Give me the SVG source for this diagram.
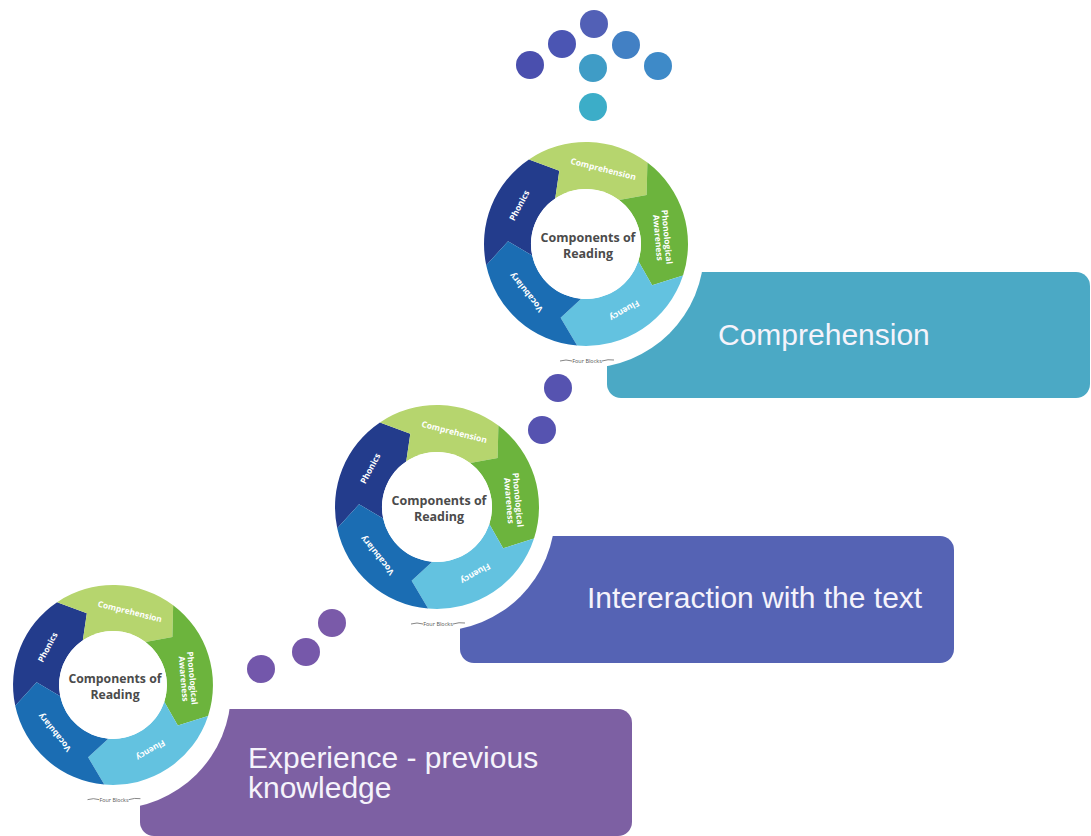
<svg xmlns="http://www.w3.org/2000/svg" xmlns:xlink="http://www.w3.org/1999/xlink" width="1091" height="836" viewBox="0 0 1091 836">
  <style>
    .seg-phonics { fill: #233c8c; }
    .seg-comp { fill: #b6d56e; }
    .seg-phon { fill: #6cb43d; }
    .seg-flu { fill: #63c2e0; }
    .seg-voc { fill: #1b6db3; }
    .seg-label { font-family: "Open Sans", "DejaVu Sans", sans-serif; font-weight: bold; font-size: 8.5px; fill: #ffffff; text-anchor: middle; }
    .hub { fill: #ffffff; }
    .hub-label { font-family: "Open Sans", "DejaVu Sans", sans-serif; font-weight: bold; font-size: 12.5px; fill: #4b4b4b; text-anchor: middle; }
    .caption { font-family: "Open Sans", "DejaVu Sans", sans-serif; font-size: 5.5px; fill: #555555; text-anchor: middle; }
    .caption-line { stroke: #666666; stroke-width: 0.8; fill: none; }
    .cutout { fill: #ffffff; }
    .panel-text { font-family: "Liberation Sans", Arial, sans-serif; font-size: 30px; fill: #f5f3fb; }
    .p1 { fill: #7d60a3; }
    .p2 { fill: #5563b4; }
    .p3 { fill: #4ba9c5; }
  </style>
  <defs>
    <!-- reading wheel: five chevron segments around a white hub, centred on 0,0 -->
    <g id="wheel">
      <path class="seg-phonics" d="M -99.77 21.21 A 102 102 0 0 1 -57.04 -84.56 L -26.68 -73.30 L -30.76 -45.60 A 55 55 0 0 0 -53.80 11.44 L -77.95 -2.72 Z"/>
      <path class="seg-comp" d="M -57.04 -84.56 A 102 102 0 0 1 61.39 -81.46 L 60.62 -49.09 L 33.10 -43.93 A 55 55 0 0 0 -30.76 -45.60 L -26.68 -73.30 Z"/>
      <path class="seg-phon" d="M 61.39 -81.46 A 102 102 0 0 1 97.01 31.52 L 66.15 41.33 L 52.31 17.00 A 55 55 0 0 0 33.10 -43.93 L 60.62 -49.09 Z"/>
      <path class="seg-flu" d="M 97.01 31.52 A 102 102 0 0 1 -8.89 101.61 L -25.39 73.75 L -4.79 54.79 A 55 55 0 0 0 52.31 17.00 L 66.15 41.33 Z"/>
      <path class="seg-voc" d="M -8.89 101.61 A 102 102 0 0 1 -99.77 21.21 L -77.95 -2.72 L -53.80 11.44 A 55 55 0 0 0 -4.79 54.79 L -25.39 73.75 Z"/>
      <circle class="hub" cx="0" cy="0" r="55"/>
      <text class="seg-label" transform="translate(17.3 -75) rotate(14)" dy="3">Comprehension</text>
      <text class="seg-label" transform="translate(76.5 -6.7) rotate(85)"><tspan x="0" y="-1.5">Phonological</tspan><tspan x="0" y="7.5">Awareness</tspan></text>
      <text class="seg-label" transform="translate(38.5 66.7) rotate(150)" dy="3">Fluency</text>
      <text class="seg-label" transform="translate(-59.8 48.5) rotate(231)" dy="3">Vocabulary</text>
      <text class="seg-label" transform="translate(-66.7 -38.5) rotate(298)" dy="3">Phonics</text>
      <text class="hub-label" x="2" y="-2">Components of</text>
      <text class="hub-label" x="2" y="14">Reading</text>
      <path class="caption-line" d="M -26 117 Q -20 115 -14 117"/>
      <text class="caption" x="1" y="119">Four Blocks</text>
      <path class="caption-line" d="M 16 117 Q 22 115 28 116"/>
    </g>
  </defs>

  <!-- upward arrow made of dots -->
  <g id="arrow-up">
    <circle cx="594" cy="24" r="14" fill="#5260b6"/>
    <circle cx="562" cy="44" r="14" fill="#4b55b3"/>
    <circle cx="626" cy="45" r="14" fill="#4280c4"/>
    <circle cx="530" cy="65" r="14" fill="#4a4fae"/>
    <circle cx="593" cy="68" r="14" fill="#3f9cc6"/>
    <circle cx="658" cy="66" r="14" fill="#3e8ac8"/>
    <circle cx="593" cy="107" r="14" fill="#3cadc8"/>
  </g>

  <!-- dotted links between the steps -->
  <g id="connectors">
    <circle cx="261" cy="669" r="14" fill="#7357ab"/>
    <circle cx="306" cy="652" r="14" fill="#7658aa"/>
    <circle cx="332" cy="623" r="14" fill="#7a5aa9"/>
    <circle cx="542" cy="430" r="14" fill="#5653b0"/>
    <circle cx="558" cy="388" r="14" fill="#5653b0"/>
  </g>

  <!-- step 1 -->
  <g id="step-experience">
    <rect class="p1" x="140" y="709" width="492" height="127" rx="14"/>
    <circle class="cutout" cx="113" cy="691" r="118"/>
    <use xlink:href="#wheel" transform="translate(113 685) scale(0.98)"/>
    <text class="panel-text" x="248" y="768">Experience - previous</text>
    <text class="panel-text" x="248" y="798">knowledge</text>
  </g>

  <!-- step 2 -->
  <g id="step-interaction">
    <rect class="p2" x="460" y="536" width="494" height="127" rx="14"/>
    <circle class="cutout" cx="437" cy="513" r="118"/>
    <use xlink:href="#wheel" transform="translate(437 507)"/>
    <text class="panel-text" x="587" y="608">Intereraction with the text</text>
  </g>

  <!-- step 3 -->
  <g id="step-comprehension">
    <rect class="p3" x="607" y="272" width="483" height="126" rx="14"/>
    <circle class="cutout" cx="586" cy="250" r="118"/>
    <use xlink:href="#wheel" transform="translate(586 244)"/>
    <text class="panel-text" x="718" y="345">Comprehension</text>
  </g>
</svg>
